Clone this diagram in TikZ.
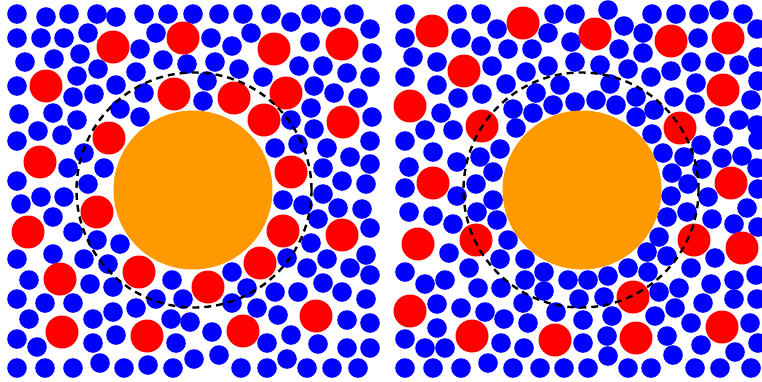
\documentclass[tikz,border=0pt]{standalone}
\definecolor{ballorange}{RGB}{255,153,0}
\begin{document}
\begin{tikzpicture}[x=1pt,y=-1pt,
    solvent/.style={fill=blue},
    crowder/.style={fill=red},
    colloid/.style={fill=ballorange},
    shell/.style={draw=black,line width=2.4pt,dash pattern=on 7pt off 5pt}
]
\useasboundingbox (0,0) rectangle (762,381);

% left box
\foreach \x/\y in {17/14,46/17,69/14,97/14,116/17,144/14,168/14,193/14,219/14,243/14,271/14,291/22,311/14,331/17,354/14,370/29,
    17/38,41/38,64/38,88/33,156/33,211/38,232/46,251/33,310/42,372/53,
    25/62,54/59,80/54,140/49,163/60,187/64,215/62,239/69,263/77,299/66,323/66,347/73,370/77,
    17/86,77/76,98/69,136/72,116/85,144/93,94/94,73/97,207/81,203/101,314/86,334/93,358/98,311/108,291/120,372/117,
    19/114,53/113,77/120,120/109,140/117,38/131,62/135,
    17/141,84/153,68/168,104/168,17/181,41/197,64/197,88/184,21/204,53/217,73/232,97/240,120/244,
    275/148,298/144,327/148,314/129,370/141,350/157,370/164,323/168,342/181,366/184,283/200,303/205,323/194,338/208,362/209,318/219,370/228,311/243,327/259,366/255,287/258,
    17/259,53/254,84/259,108/264,29/280,90/284,113/287,172/280,17/299,45/303,73/303,136/308,156/299,183/299,29/319,93/319,113/312,171/319,190/322,17/339,37/347,93/343,116/335,176/343,17/368,45/368,73/368,100/363,124/368,148/365,173/368,194/359,
    307/268,350/268,370/275,232/272,247/288,275/292,298/292,323/283,342/292,366/299,232/303,257/308,278/315,212/332,291/335,318/344,347/320,370/323,267/343,347/348,370/348,219/355,241/368,267/368,287/359,307/368,332/368,358/368}
  \fill[solvent] (\x,\y) circle[radius=9.8pt];
\foreach \x/\y in {113/47,183/38,274/49,342/44,46/86,174/94,234/98,286/93,264/120,343/122,109/138,40/162,291/172,97/212,28/232,283/231,342/235,139/272,260/263,208/287,60/279,316/316,62/332,147/336,243/331}
  \fill[crowder] (\x,\y) circle[radius=16.5pt];
\fill[colloid] (193,190) circle[radius=79.5pt];
\draw[shell] (194,190) circle[radius=117.5pt];

% right box
\foreach \x/\y in {405/14,457/14,481/14,554/14,575/14,405/38,461/38,497/29,481/46,508/49,532/49,548/33,571/42,413/57,437/62,492/66,526/72,548/66,575/62,405/77,437/85,506/84,482/94,536/93,560/85,458/98,575/102,441/113,513/109,533/113,553/105,425/130,453/130,516/128,
    608/10,652/14,676/14,699/14,719/10,743/14,624/26,643/33,698/38,757/29,619/49,643/53,600/65,628/69,671/71,691/62,715/62,739/65,758/57,651/77,696/83,758/81,610/84,596/100,616/105,636/97,654/110,674/97,695/104,715/117,739/120,751/100,636/117,757/125,
    405/141,433/152,457/162,480/157,500/149,409/167,405/188,457/196,476/184,493/172,493/200,409/212,433/216,453/224,477/212,497/220,508/240,449/253,500/259,525/259,
    652/134,701/145,723/136,758/140,663/153,684/157,722/158,742/156,672/173,702/169,757/168,688/184,758/189,671/196,708/197,687/212,747/208,667/217,712/219,734/224,758/227,659/237,647/252,667/256,715/258,
    405/272,425/284,445/280,469/268,478/288,501/288,525/280,544/272,544/291,568/280,437/304,461/308,485/312,523/303,556/312,579/299,437/328,504/319,528/323,405/339,425/348,445/348,501/343,524/348,405/368,433/368,461/368,488/363,513/368,540/368,564/368,
    588/280,608/276,628/268,648/272,691/268,604/297,659/292,679/288,711/284,734/280,756/275,612/316,655/316,675/308,703/303,734/299,757/299,583/320,691/323,750/323,583/343,607/336,667/336,701/345,735/352,758/343,608/356,673/355,588/368,628/368,651/368,695/368,720/368,751/368}
  \fill[solvent] (\x,\y) circle[radius=9.8pt];
\foreach \x/\y in {432/31,523/23,595/34,671/41,728/38,464/71,723/90,410/106,482/126,680/128,433/183,731/183,418/244,476/240,694/240,742/248,633/297,410/311,722/327,472/336,555/340,636/338}
  \fill[crowder] (\x,\y) circle[radius=16.5pt];
\fill[colloid] (582,190) circle[radius=79.5pt];
\draw[shell] (581,190) circle[radius=117.5pt];
\end{tikzpicture}
\end{document}
